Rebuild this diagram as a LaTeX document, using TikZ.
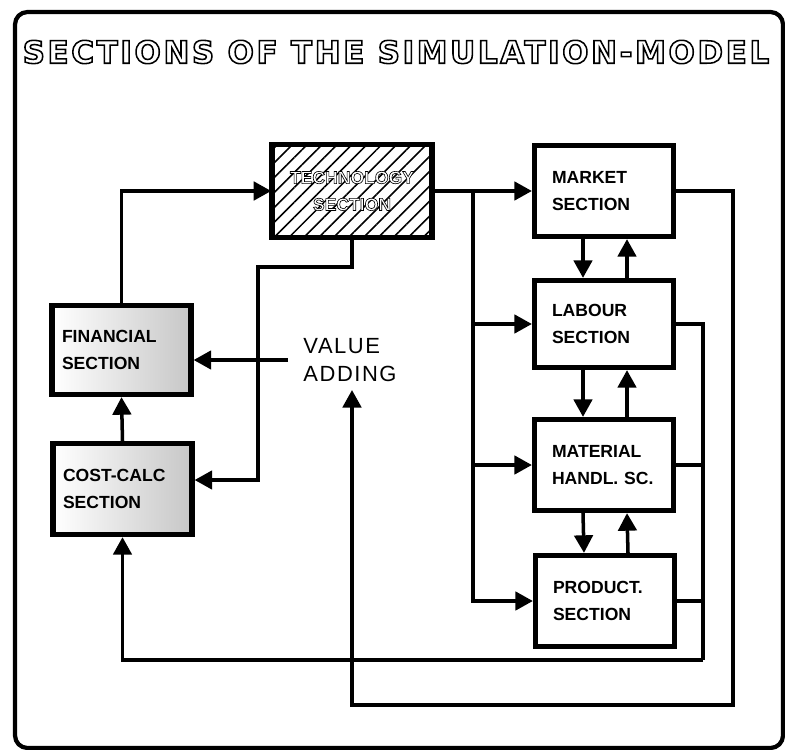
\documentclass[tikz,border=0pt]{standalone}
\usepackage{fontspec}
\setmainfont{Liberation Sans}
\newfontfamily\headfont{DejaVu Sans}[LetterSpace=8.5, BoldFeatures={FakeBold=5}]
\newfontfamily\techfont{Liberation Sans}[BoldFeatures={FakeBold=3.5}]
\newfontfamily\spacedfont{Liberation Sans}[LetterSpace=7]
\usetikzlibrary{arrows.meta, calc, patterns.meta}
\newcommand\boxfnt{\fontsize{10}{15.3}\selectfont\bfseries}
% white letters, black rim (fake-bold stroke in black)
\newcommand\hollow[1]{\textcolor{white}{\special{pdf:literal direct 0 0 0 RG}#1}}

\begin{document}
\begin{tikzpicture}[
    x=0.02cm, y=-0.02cm,
    sect/.style={rectangle, draw, line width=3pt, fill=white, minimum width=2.78cm, minimum height=1.82cm,
                 inner xsep=0.35cm, text width=2.08cm, align=left, font=\boxfnt},
    acct/.style={sect, inner xsep=0.2cm, text width=2.38cm, left color=white, right color=black!22},
    flow/.style={line width=2pt, -{Triangle[length=10pt, width=10.5pt]}},
    link/.style={line width=2pt}
]
    \useasboundingbox (0,0) rectangle (785,750);
    \draw[line width=2.4pt, rounded corners=0.25cm] (15,12) rectangle (783,748);

    \node (title) at (396,52) {\headfont\fontsize{17.6}{21}\selectfont\bfseries\hollow{SECTIONS OF THE SIMULATION-MODEL}};

    \node[sect, minimum width=3.1cm, minimum height=1.86cm, text width=2.5cm, align=center,
          pattern={Lines[angle=45, distance=6pt, line width=0.9pt]}] (tech) at (352,191)
          {\techfont\bfseries\hollow{TECHNOLOGY}\\\hollow{SECTION}};
    \node[sect] (market) at (604,191) {MARKET\\SECTION};
    \node[sect, minimum height=1.74cm] (labour) at (604,324) {LABOUR\\SECTION};
    \node[sect] (material) at (604,465) {MATERIAL\\HANDL.~SC.};
    \node[sect] (product) at (605,601) {PRODUCT.\\SECTION};
    \node[acct, minimum height=1.78cm] (fin) at (121.5,350) {FINANCIAL\\SECTION};
    \node[acct] (cost) at (122.5,489) {COST-CALC\\SECTION};
    \node[font=\spacedfont\fontsize{12.5}{15.8}\selectfont, align=left, inner xsep=0.3cm] (value) at (350,360) {VALUE\\ADDING};

    \coordinate (bus) at (473,191);
    \coordinate (mloop) at (733,705);
    \coordinate (vin) at (352,390);
    \coordinate (rbus) at (703,660);
    \coordinate (tturn) at (258,267);
    \coordinate (costin) at ($(cost.east)+(0,-9)$);

    \draw[flow] (fin.north) |- (tech.west);
    \draw[flow] (tech.east) -- (market.west);
    \draw[flow] (bus) |- (product.west);
    \draw[flow] (bus |- labour.west) -- (labour.west);
    \draw[flow] (bus |- material.west) -- (material.west);
    \foreach \upper/\lower in {market/labour, labour/material, material/product} {
        \draw[flow] ($(\upper.south)+(-21,0)$) -- ($(\lower.north)+(-21,0)$);
        \draw[flow] ($(\lower.north)+(23,0)$) -- ($(\upper.south)+(23,0)$);
    }
    \draw[flow] (market.east) -| (mloop) -| (vin);
    \draw[link] (labour.east) -| (rbus);
    \draw[link] (material.east) -- (material.east -| rbus);
    \draw[link] (product.east) -- (product.east -| rbus);
    \draw[flow] (rbus) -| (cost.south);
    \draw[flow] (tech.south) |- (tturn) |- (costin);
    \draw[flow] (value.west) -- (value.west -| fin.east);
    \draw[flow] (cost.north) -- (fin.south);
\end{tikzpicture}
\end{document}
